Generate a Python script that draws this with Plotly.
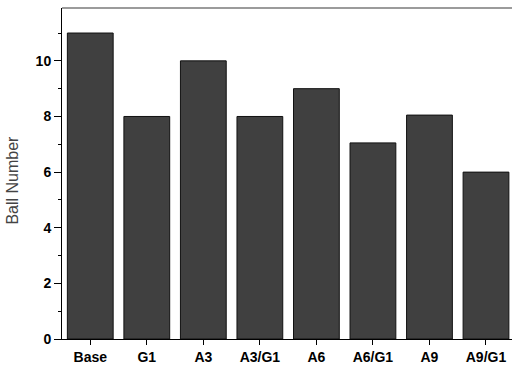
import plotly.graph_objects as go

categories = ["Base", "G1", "A3", "A3/G1", "A6", "A6/G1", "A9", "A9/G1"]
ball_number = [11, 8, 10, 8, 9, 7.05, 8.05, 6]
y_ticks = [0, 2, 4, 6, 8, 10]

fig = go.Figure(
    go.Bar(
        x=categories,
        y=ball_number,
        marker=dict(color="#404040", line=dict(color="#111111", width=1)),
    )
)

fig.update_layout(
    width=512,
    height=367,
    margin=dict(l=62, r=0, t=8, b=28),
    paper_bgcolor="white",
    plot_bgcolor="white",
    bargap=0.19,
    showlegend=False,
    font=dict(family="Liberation Sans, Arial, sans-serif", color="black"),
    shapes=[
        dict(type="line", xref="paper", yref="paper", x0=0, x1=1, y0=1, y1=1,
             line=dict(color="#7a7a7a", width=1.5)),
    ],
    annotations=[
        dict(text="Ball Number", xref="paper", yref="paper", x=-0.11, y=0.48,
             textangle=-90, showarrow=False, xanchor="center", yanchor="middle",
             font=dict(size=16, color="#444444")),
    ],
)

fig.update_xaxes(
    range=[-0.5, 7.46],
    showline=True,
    linecolor="black",
    linewidth=1,
    ticks="outside",
    ticklen=5,
    tickcolor="black",
    showgrid=False,
    tickfont=dict(size=14, family="Liberation Sans, Arial, sans-serif", weight="bold"),
)

fig.update_yaxes(
    range=[0, 11.9],
    tickvals=y_ticks,
    showline=True,
    linecolor="black",
    linewidth=1,
    ticks="outside",
    ticklen=7,
    tickcolor="black",
    minor=dict(dtick=1, ticks="outside", ticklen=3, tickcolor="black"),
    showgrid=False,
    zeroline=False,
    tickfont=dict(size=14, family="Liberation Sans, Arial, sans-serif", weight="bold"),
)

fig.write_html("out.html")
